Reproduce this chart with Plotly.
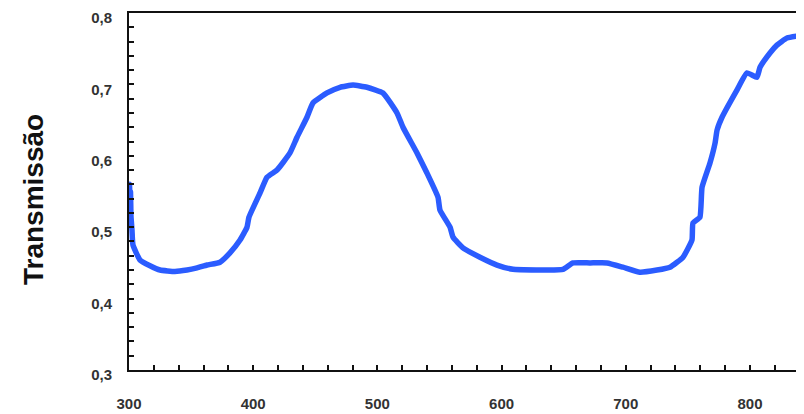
import plotly.graph_objects as go

wavelength = [300.0, 300.4, 300.8, 301.2, 301.6, 302.4, 303.2, 308.9, 316.9, 325.0, 337.0, 346.7, 354.8,
              362.8, 373.3, 381.3, 389.4, 395.0, 396.6, 405.5, 411.1, 419.2, 429.6, 435.3, 443.3,
              448.1, 459.4, 469.9, 480.4, 491.6, 504.5, 515.8, 520.6, 531.9, 539.9, 548.8, 550.4,
              558.5, 560.9, 568.9, 582.6, 596.3, 609.2, 628.5, 636.6, 649.4, 657.5, 671.2, 684.9,
              697.7, 711.4, 725.1, 735.6, 746.1, 753.3, 754.1, 759.7, 761.4, 767.8, 771.9, 773.5,
              777.5, 789.5, 797.6, 805.6, 808.1, 816.1, 821.7, 829.8, 843.5]
transmissao = [0.545, 0.560, 0.530, 0.550, 0.515, 0.496, 0.475, 0.454, 0.446, 0.440, 0.438, 0.440, 0.443,
               0.447, 0.451, 0.464, 0.482, 0.500, 0.514, 0.548, 0.570, 0.580, 0.604, 0.626, 0.654,
               0.674, 0.688, 0.696, 0.699, 0.696, 0.688, 0.660, 0.640, 0.604, 0.576, 0.542, 0.524,
               0.500, 0.486, 0.471, 0.458, 0.447, 0.441, 0.440, 0.440, 0.441, 0.450, 0.450, 0.450,
               0.444, 0.437, 0.440, 0.444, 0.458, 0.482, 0.506, 0.514, 0.556, 0.590, 0.618, 0.636,
               0.654, 0.692, 0.716, 0.710, 0.724, 0.744, 0.755, 0.765, 0.769]

x_range = [300, 843.5]
y_range = [0.3, 0.8]
y_title = "Transmissão"

fig = go.Figure()
fig.add_trace(go.Scatter(
    x=wavelength, y=transmissao, mode="lines",
    line=dict(color="#2b5cff", width=5.5, shape="spline", smoothing=0.4),
    showlegend=False, hoverinfo="skip",
))

tick_font = dict(family="Liberation Sans, Arial, sans-serif", size=15, color="#333333", weight="bold")

# The page body adds an 8px offset, so the figure is 8px smaller than the window.
fig.update_layout(
    width=796, height=406,
    margin=dict(l=121, r=0, t=5, b=44, autoexpand=False),
    paper_bgcolor="white", plot_bgcolor="white",
    separators=",.",
    xaxis=dict(
        range=x_range, dtick=100, tick0=300, tickformat="d", automargin=False,
        showgrid=False, zeroline=False,
        showline=True, linecolor="#111111", linewidth=2, mirror=True,
        ticks="inside", ticklen=5, tickwidth=2, tickcolor="#111111",
        minor=dict(dtick=20, tick0=300, ticks="inside", ticklen=5, tickwidth=2, tickcolor="#111111", showgrid=False),
        tickfont=tick_font, ticklabelstandoff=19, ticklabeloverflow="allow",
    ),
    yaxis=dict(
        range=y_range, dtick=0.1, tick0=0.3, tickformat=".1f", automargin=False,
        showgrid=False, zeroline=False,
        showline=True, linecolor="#111111", linewidth=2, mirror=False,
        ticks="inside", ticklen=5, tickwidth=2, tickcolor="#111111",
        minor=dict(dtick=0.02, tick0=0.3, ticks="inside", ticklen=5, tickwidth=2, tickcolor="#111111", showgrid=False),
        tickfont=tick_font, ticklabelstandoff=12, ticklabelshift=5, ticklabeloverflow="allow",
    ),
    annotations=[dict(
        text="<b>" + y_title + "</b>", textangle=-90,
        xref="paper", yref="paper", x=-(121 - 25) / 675, y=0.476,
        xanchor="center", yanchor="middle", showarrow=False,
        font=dict(family="Liberation Sans, Arial, sans-serif", size=28, color="#111111"),
    )],
)

fig.write_html("out.html")
